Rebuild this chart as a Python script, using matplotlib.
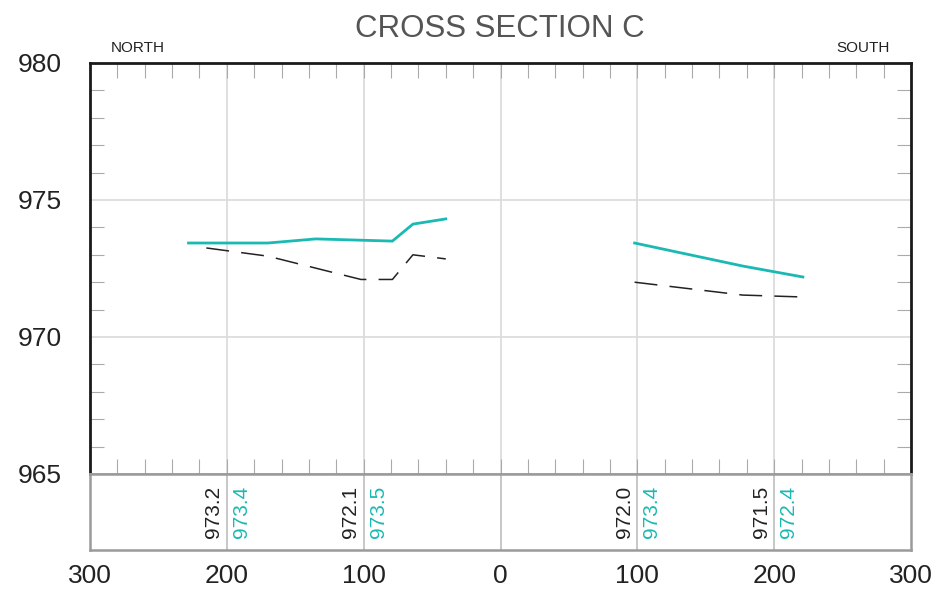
import matplotlib
matplotlib.use("Agg")
import matplotlib.pyplot as plt
from matplotlib.ticker import MultipleLocator, FixedLocator, FuncFormatter

plt.rcParams['font.family'] = ['Liberation Sans', 'DejaVu Sans']

# ---- data ----
north_surface_x = [-228, -200, -170, -135, -79, -64, -40]
north_surface_y = [973.43, 973.43, 973.43, 973.58, 973.50, 974.12, 974.31]
north_water_x = [-215, -170, -102, -79, -64, -40]
north_water_y = [973.25, 972.95, 972.10, 972.10, 973.00, 972.85]
south_surface_x = [98, 177, 221]
south_surface_y = [973.43, 972.59, 972.19]
south_water_x = [98, 177, 221]
south_water_y = [972.00, 971.53, 971.46]

station_x = [-200, -100, 100, 200]
water_labels = ["973.2", "972.1", "972.0", "971.5"]
surface_labels = ["973.4", "973.5", "973.4", "972.4"]

x_ticks = [-300, -200, -100, 0, 100, 200, 300]
y_ticks = [965, 970, 975, 980]

TEAL = '#1bb9b3'
GRID = '#dcdcdc'
FRAME_GRAY = '#9a9a9a'
W, H = 941, 591

fig = plt.figure(figsize=(W / 100, H / 100), dpi=100)
L, R = 90 / W, 911 / W
ax = fig.add_axes([L, (H - 474) / H, R - L, (474 - 63) / H])
band = fig.add_axes([L, (H - 550) / H, R - L, (550 - 474) / H])

# ---- main axes ----
ax.set_xlim(-300, 300)
ax.set_ylim(965, 980)
for x in [-200, -100, 0, 100, 200]:
    ax.axvline(x, color=GRID, lw=1.3, zorder=0)
for y in [970, 975]:
    ax.axhline(y, color=GRID, lw=1.3, zorder=0)

ax.plot(north_surface_x, north_surface_y, color=TEAL, lw=2.0, solid_joinstyle='miter')
ax.plot(south_surface_x, south_surface_y, color=TEAL, lw=2.0)
ax.plot(north_water_x, north_water_y, color='#222222', lw=1.1, dashes=(15, 8))
ax.plot(south_water_x, south_water_y, color='#222222', lw=1.1, dashes=(15, 8))

ax.xaxis.set_minor_locator(MultipleLocator(20))
ax.xaxis.set_major_locator(FixedLocator([]))
ax.yaxis.set_major_locator(FixedLocator(y_ticks))
ax.yaxis.set_minor_locator(MultipleLocator(1))
ax.tick_params(axis='x', which='minor', direction='in', length=11, width=0.8,
               color='#aaaaaa', top=True, bottom=True, labelbottom=False)
ax.tick_params(axis='y', which='major', direction='in', length=0, labelsize=19,
               pad=20, labelcolor='#222222', left=True, right=False)
ax.tick_params(axis='y', which='minor', direction='in', length=10, width=0.8,
               color='#aaaaaa', left=True, right=True)
for s in ['left', 'top', 'right']:
    ax.spines[s].set_color('#1a1a1a')
    ax.spines[s].set_linewidth(2.0)
ax.spines['bottom'].set_color(FRAME_GRAY)
ax.spines['bottom'].set_linewidth(1.8)

ax.text(-265, 1.02, 'NORTH', transform=ax.get_xaxis_transform(), ha='center',
        va='bottom', fontsize=11, color='#222222')
ax.text(265, 1.02, 'SOUTH', transform=ax.get_xaxis_transform(), ha='center',
        va='bottom', fontsize=11, color='#222222')
fig.text(500 / W, 1 - 29 / H, 'CROSS SECTION C', ha='center', va='center',
         fontsize=22.5, color='#555555')

# ---- label band ----
band.set_xlim(-300, 300)
band.set_ylim(0, 1)
for x in [-200, -100, 0, 100, 200]:
    band.axvline(x, color='#bdbdbd', lw=1.2, zorder=0)
for sx, wl, sl in zip(station_x, water_labels, surface_labels):
    band.annotate(wl, (sx, 0.5), xytext=(-2.5, 0), textcoords='offset points',
                  rotation=90, ha='right', va='center', fontsize=15, color='#222222')
    band.annotate(sl, (sx, 0.5), xytext=(3.5, 0), textcoords='offset points',
                  rotation=90, ha='left', va='center', fontsize=15, color=TEAL)
band.set_yticks([])
band.xaxis.set_major_locator(FixedLocator(x_ticks))
band.xaxis.set_major_formatter(FuncFormatter(lambda v, p: f"{abs(int(round(v)))}"))
band.tick_params(axis='x', length=0, labelsize=19, pad=10, labelcolor='#222222')
for s in band.spines.values():
    s.set_color(FRAME_GRAY)
    s.set_linewidth(1.8)

fig.savefig('out.png', dpi=100)
